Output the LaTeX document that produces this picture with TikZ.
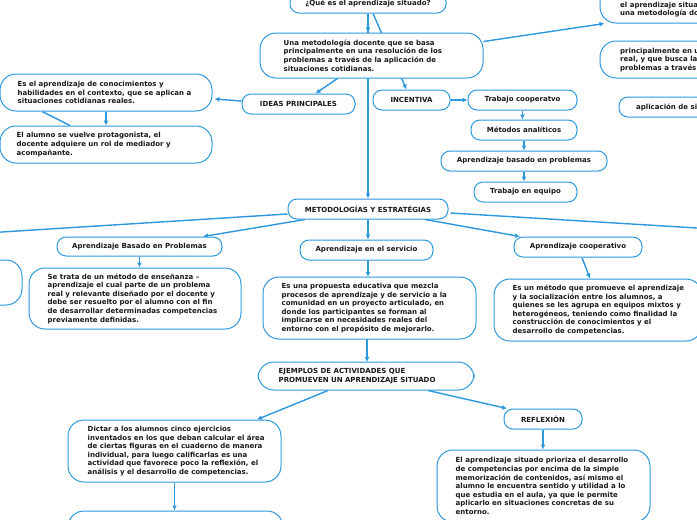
\documentclass[tikz,border=0pt]{standalone}
\usepackage{fontspec}
\setmainfont{DejaVu Sans}
\usetikzlibrary{arrows.meta,calc,backgrounds}
\definecolor{mblue}{RGB}{45,152,222}
\definecolor{mtext}{RGB}{25,25,25}
\begin{document}
\begin{tikzpicture}[x=1pt,y=-1pt,
  every node/.style={font=\fontsize{7}{8.6}\selectfont\bfseries, text=mtext},
  bx/.style={draw=mblue, line width=1pt, fill=white, rounded corners=9pt, inner sep=0pt},
  bigbx/.style={bx, rounded corners=16pt},
  txt/.style={align=left, inner sep=0pt, anchor=west},
  conn/.style={draw=mblue, line width=1.4pt},
  arr/.style={conn, -{Latex[length=5pt,width=5pt]}}
]
\useasboundingbox (0,0) rectangle (697,520);
\clip (0,0) rectangle (697,520);

% top
\node[bx, minimum width=156pt, minimum height=20pt] (b1) at (368,3) {¿Qué es el aprendizaje situado?};
\node[bigbx, minimum width=223pt, minimum height=45pt] (b2) at (371.5,55.5) {};
\node[txt] (b2t) at ($(b2.west)+(24,0)$) {Una metodología docente que se basa\\principalmente en una resolución de los\\problemas a través de la aplicación de\\situaciones cotidianas.};

% top right (cut)
\node[bigbx, minimum width=190pt, minimum height=43pt] (tA) at (695,1.5) {};
\node[txt] (tAt) at (620,9.5) {el aprendizaje situado es\\una metodología docente};
\node[bigbx, minimum width=190pt, minimum height=37pt] (tB) at (695,59.5) {};
\node[txt] (tBt) at (620,60) {principalmente en un contexto\\real, y que busca la resolución de\\problemas a través de la};
\node[bx, minimum width=171pt, minimum height=20pt] (tC) at (704.5,107) {};
\node[txt] (tCt) at (636,107) {aplicación de situaciones};

% ideas
\node[bx, minimum width=113pt, minimum height=20pt] (ideas) at (298.5,104) {IDEAS PRINCIPALES};
\node[bigbx, minimum width=212pt, minimum height=37pt] (b5) at (106,92.5) {};
\node[txt] (b5t) at ($(b5.west)+(18,0)$) {Es el aprendizaje de conocimientos y\\habilidades en el contexto, que se aplican a\\situaciones cotidianas reales.};
\node[bigbx, minimum width=212pt, minimum height=37pt] (b6) at (106,144.5) {};
\node[txt] (b6t) at ($(b6.west)+(17,0)$) {El alumno se vuelve protagonista, el\\docente adquiere un rol de mediador y\\acompañante.};

% incentiva
\node[bx, minimum width=77pt, minimum height=20pt] (inc) at (411.5,100) {INCENTIVA};
\node[bx, minimum width=109pt, minimum height=20pt] (tc) at (522.5,100) {Trabajo cooperatvo};
\node[bx, minimum width=106pt, minimum height=20pt] (ma) at (524,130) {Métodos analíticos};
\node[bx, minimum width=166pt, minimum height=20pt] (abp) at (524,161) {Aprendizaje basado en problemas};
\node[bx, minimum width=103pt, minimum height=20pt] (te) at (525.5,192) {Trabajo en equipo};

% metodologias
\node[bx, minimum width=160pt, minimum height=20pt] (me) at (368,209) {METODOLOGÍAS Y ESTRATÉGIAS};
\node[bx, minimum width=165pt, minimum height=19pt] (abp2) at (139.5,246.5) {Aprendizaje Basado en Problemas};
\node[bigbx, minimum width=212pt, minimum height=61pt] (b14) at (135,298.5) {};
\node[txt] (b14t) at ($(b14.west)+(19,0)$) {Se trata de un método de enseñanza –\\aprendizaje el cual parte de un problema\\real y relevante diseñado por el docente y\\debe ser resuelto por el alumno con el fin\\de desarrollar determinadas competencias\\previamente definidas.};
\node[bigbx, minimum width=122pt, minimum height=45pt] (lft) at (-39,282.5) {};
\node[bx, minimum width=133pt, minimum height=20pt] (aes) at (366.5,250) {Aprendizaje en el servicio};
\node[bigbx, minimum width=213pt, minimum height=62pt] (b17) at (369.5,308) {};
\node[txt] (b17t) at ($(b17.west)+(19,0)$) {Es una propuesta educativa que mezcla\\procesos de aprendizaje y de servicio a la\\comunidad en un proyecto articulado, en\\donde los participantes se forman al\\implicarse en necesidades reales del\\entorno con el propósito de mejorarlo.};
\node[bx, minimum width=128pt, minimum height=20pt] (acoop) at (578,247) {Aprendizaje cooperativo};
\node[bigbx, minimum width=208pt, minimum height=62pt] (b19) at (598,310) {};
\node[txt] (b19t) at ($(b19.west)+(19,0)$) {Es un método que promueve el aprendizaje\\y la socialización entre los alumnos, a\\quienes se les agrupa en equipos mixtos y\\heterogéneos, teniendo como finalidad la\\construcción de conocimientos y el\\desarrollo de competencias.};

% ejemplos
\node[bigbx, minimum width=216pt, minimum height=28pt] (ej) at (366,376) {};
\node[txt] (ejt) at ($(ej.west)+(21,0)$) {EJEMPLOS DE ACTIVIDADES QUE\\PROMUEVEN UN APRENDIZAJE SITUADO};
\node[bx, minimum width=78pt, minimum height=20pt] (refl) at (543,419) {REFLEXIÓN};
\node[bigbx, minimum width=213pt, minimum height=72pt] (b22) at (543.5,486) {};
\node[txt] (b22t) at ($(b22.west)+(19,0)$) {El aprendizaje situado prioriza el desarrollo\\de competencias por encima de la simple\\memorización de contenidos, así mismo el\\alumno le encuentra sentido y utilidad a lo\\que estudia en el aula, ya que le permite\\aplicarlo en situaciones concretas de su\\entorno.};
\node[bigbx, minimum width=213pt, minimum height=62pt] (dic) at (174.5,451) {};
\node[txt] (dict) at ($(dic.west)+(20,0)$) {Dictar a los alumnos cinco ejercicios\\inventados en los que deban calcular el área\\de ciertas figuras en el cuaderno de manera\\individual, para luego calificarlas es una\\actividad que favorece poco la reflexión, el\\análisis y el desarrollo de competencias.};
\node[bigbx, minimum width=215pt, minimum height=68pt] (b24) at (175.5,545) {};

\coordinate (offL) at (-30,234);
\coordinate (offR) at (730,230);
\coordinate (aesS) at (368,260);
\coordinate (b17N) at (368,277);
\coordinate (b17S) at (367,339);
\coordinate (ejN) at (367,362);

\begin{scope}[on background layer]
\clip (0,0) rectangle (697,520);
\draw[arr] (b1.south) -- (b1.south |- b2.north);
\draw[arr] (b1.south) -- (b1.south |- me.north);
\draw[arr] ($(b1.south)+(5,0)$) -- ($(inc.north)+(-5,0)$);
\draw[arr] ($(b2.south)+(-34,0)$) -- ($(ideas.north)+(17,0)$);
\draw[arr] ($(b2.east)+(0,-14)$) -- ($(tA.south west)+(5,0)$);
\draw[arr] ($(ideas.west)+(0,-3)$) -- ($(b5.east)+(2,6.5)$);
\draw[arr] (b5.south) -- (b6.north);
\draw[conn] ($(b5.south)+(-64,0)$) -- ($(b6.north)+(-36,0)$);
\draw[arr] (inc.east) -- (tc.west);
\draw[arr] (tc.south) -- (tc.south |- ma.north);
\draw[arr] (ma.south) -- (ma.south |- abp.north);
\draw[arr] (abp.south) -- (abp.south |- te.north);
\draw[conn] ($(me.west)+(0,5)$) -- (offL);
\draw[arr] ($(me.south)+(-63,0)$) -- ($(abp2.north)+(63.5,0)$);
\draw[arr] (me.south) -- (me.south |- aes.north);
\draw[arr] ($(me.south)+(57,0)$) -- ($(acoop.north)+(-58,0)$);
\draw[conn] ($(me.east)+(2,4)$) -- (offR);
\draw[arr] (abp2.south) -- (abp2.south |- b14.north);
\draw[arr] (aesS) -- (b17N);
\draw[arr] (b17S) -- (ejN);
\draw[arr] ($(acoop.south)+(4,0)$) -- ($(b19.north)+(-8,0)$);
\draw[arr] ($(ej.south)+(-38,0)$) -- ($(dic.north)+(82.5,0)$);
\draw[arr] ($(ej.south)+(62,0)$) -- ($(refl.north)+(-36,0)$);
\draw[arr] (refl.south) -- (refl.south |- b22.north);
\draw[arr] (dic.south) -- (dic.south |- b24.north);
\end{scope}
\end{tikzpicture}
\end{document}
